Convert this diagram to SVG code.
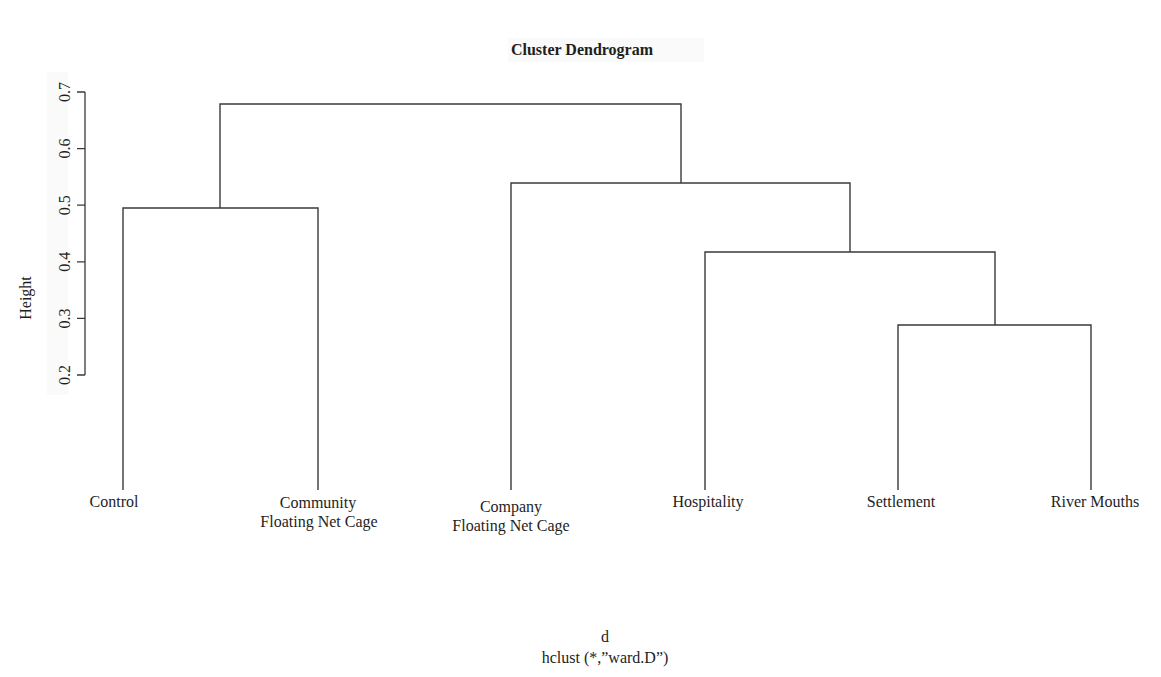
<svg xmlns="http://www.w3.org/2000/svg" width="1161" height="677" viewBox="0 0 1161 677">
<style>
text{font-family:"Liberation Serif","Times New Roman",serif;fill:#1e1e1e;font-size:16px}
.tick{font-size:16px}
.title{font-weight:bold}
.br{fill:none;stroke:#3a3a3a;stroke-width:1.4}
.ax{fill:none;stroke:#3a3a3a;stroke-width:1.3}
.bg{fill:#fafafa}
</style>
<rect width="1161" height="677" fill="#ffffff"/>
<rect class="bg" x="508" y="38" width="196" height="24"/>
<rect class="bg" x="47" y="72" width="21" height="323"/>
<text class="title" x="582" y="55" text-anchor="middle">Cluster Dendrogram</text>
<g id="axis">
<path class="ax" d="M85,92V375M77,92H85M77,148.6H85M77,205.2H85M77,261.8H85M77,318.4H85M77,375H85"/>
<text class="tick" transform="translate(70,92) rotate(-90)" text-anchor="middle">0.7</text>
<text class="tick" transform="translate(70,148.6) rotate(-90)" text-anchor="middle">0.6</text>
<text class="tick" transform="translate(70,205.2) rotate(-90)" text-anchor="middle">0.5</text>
<text class="tick" transform="translate(70,261.8) rotate(-90)" text-anchor="middle">0.4</text>
<text class="tick" transform="translate(70,318.4) rotate(-90)" text-anchor="middle">0.3</text>
<text class="tick" transform="translate(70,375) rotate(-90)" text-anchor="middle">0.2</text>
<text transform="translate(31,298) rotate(-90)" text-anchor="middle">Height</text>
</g>
<g id="connectors">
<path class="br" d="M123,490V208H318V490"/>
<path class="br" d="M898,490V325H1091V490"/>
<path class="br" d="M705,490V252H995V325"/>
<path class="br" d="M511,490V183H850V252"/>
<path class="br" d="M220,208V104H681V183"/>
</g>
<g id="leaf-control"><text x="114" y="507" text-anchor="middle">Control</text></g>
<g id="leaf-community"><text x="318" y="508" text-anchor="middle">Community</text><text x="319" y="527" text-anchor="middle">Floating Net Cage</text></g>
<g id="leaf-company"><text x="511" y="512" text-anchor="middle">Company</text><text x="511" y="531" text-anchor="middle">Floating Net Cage</text></g>
<g id="leaf-hospitality"><text x="708" y="507" text-anchor="middle">Hospitality</text></g>
<g id="leaf-settlement"><text x="901" y="507" text-anchor="middle">Settlement</text></g>
<g id="leaf-river"><text x="1095" y="507" text-anchor="middle">River Mouths</text></g>
<text x="605" y="642" text-anchor="middle">d</text>
<text x="605" y="663" text-anchor="middle">hclust (*,”ward.D”)</text>
</svg>
